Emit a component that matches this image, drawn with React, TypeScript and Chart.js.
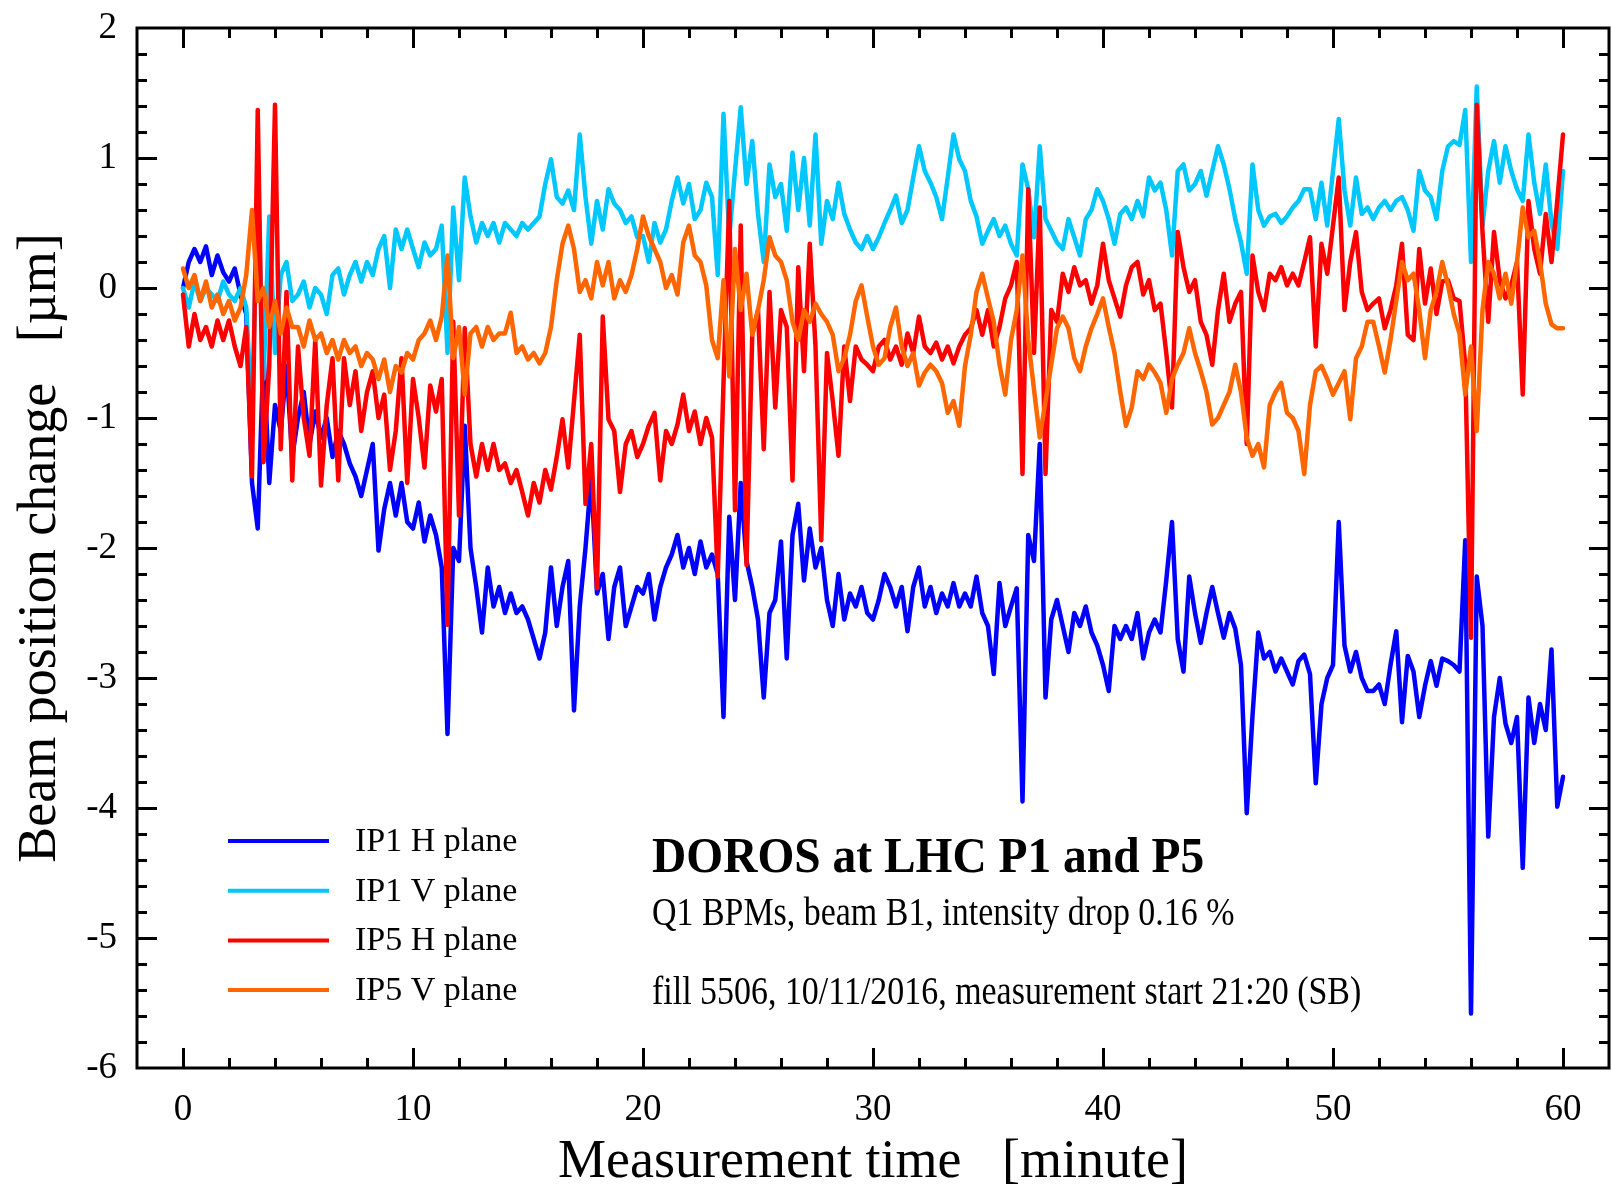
import React, { useEffect, useRef } from "react";
import { Chart, registerables } from "chart.js";

Chart.register(...registerables);

// ---------- data (minutes sampled every 0.25 min, values in µm) ----------
const STEP_MIN = 0.25;

const IP1_H = [
  0.0, 0.2, 0.3, 0.2, 0.32, 0.1, 0.25, 0.12, 0.05, 0.15, -0.05, -0.2, -1.5, -1.85, -0.5, -1.5, -0.9, -1.1, -0.6, -1.3,
  -1.0, -0.8, -1.2, -0.95, -1.15, -1.0, -1.3, -1.1, -1.2, -1.35, -1.45, -1.6, -1.4, -1.2, -2.02, -1.7, -1.5, -1.75, -1.5, -1.8,
  -1.85, -1.65, -1.95, -1.75, -1.9, -2.15, -3.43, -2.0, -2.1, -1.06, -2.0, -2.3, -2.65, -2.15, -2.45, -2.3, -2.5, -2.35, -2.5, -2.45,
  -2.55, -2.7, -2.85, -2.65, -2.15, -2.6, -2.3, -2.1, -3.25, -2.45, -2.0, -1.45, -2.35, -2.2, -2.7, -2.3, -2.15, -2.6, -2.45, -2.3,
  -2.35, -2.2, -2.55, -2.3, -2.15, -2.05, -1.9, -2.15, -2.0, -2.2, -1.95, -2.15, -2.05, -2.2, -3.3, -1.76, -2.4, -1.5, -2.1, -2.3,
  -2.55, -3.15, -2.5, -2.4, -1.95, -2.85, -1.9, -1.66, -2.25, -1.85, -2.15, -2.0, -2.4, -2.6, -2.2, -2.55, -2.35, -2.45, -2.3, -2.5,
  -2.55, -2.4, -2.2, -2.3, -2.45, -2.3, -2.64, -2.3, -2.15, -2.45, -2.3, -2.5, -2.35, -2.45, -2.27, -2.45, -2.35, -2.45, -2.22, -2.5,
  -2.6, -2.97, -2.27, -2.6, -2.45, -2.31, -3.95, -1.9, -2.1, -1.2, -3.15, -2.55, -2.4, -2.6, -2.8, -2.5, -2.6, -2.45, -2.65, -2.75,
  -2.9, -3.1, -2.6, -2.7, -2.6, -2.7, -2.5, -2.85, -2.65, -2.55, -2.65, -2.25, -1.8, -2.7, -2.95, -2.22, -2.5, -2.73, -2.5, -2.3,
  -2.5, -2.69, -2.5, -2.62, -2.9, -4.04, -3.29, -2.65, -2.85, -2.8, -2.95, -2.85, -2.95, -3.05, -2.87, -2.82, -2.97, -3.81, -3.2, -3.0,
  -2.9, -1.8, -2.75, -2.95, -2.8, -3.0, -3.1, -3.1, -3.05, -3.2, -2.9, -2.64, -3.34, -2.83, -2.95, -3.3, -3.06, -2.87, -3.06, -2.85,
  -2.87, -2.9, -2.95, -1.94, -5.58, -2.22, -2.6, -4.22, -3.3, -3.0, -3.35, -3.5, -3.3, -4.46, -3.15, -3.5, -3.2, -3.4, -2.78, -3.99,
  -3.76,
];

const IP1_V = [
  0.0, -0.15, 0.05, -0.1, 0.0, -0.05, -0.1, 0.05, -0.05, -0.1, 0.0, -0.15, -1.0, 0.8, -0.7, 0.55, -0.5, 0.1, 0.2, -0.1,
  -0.05, 0.05, -0.15, 0.0, -0.05, -0.2, 0.1, 0.15, -0.05, 0.1, 0.2, 0.05, 0.2, 0.1, 0.3, 0.4, 0.0, 0.45, 0.3, 0.45,
  0.3, 0.16, 0.35, 0.25, 0.3, 0.48, -0.5, 0.62, 0.06, 0.85, 0.55, 0.35, 0.5, 0.4, 0.5, 0.35, 0.5, 0.45, 0.4, 0.5,
  0.45, 0.5, 0.55, 0.8, 0.99, 0.7, 0.65, 0.75, 0.6, 1.18, 0.7, 0.34, 0.67, 0.45, 0.76, 0.65, 0.6, 0.5, 0.55, 0.39,
  0.4, 0.2, 0.5, 0.35, 0.45, 0.67, 0.85, 0.65, 0.8, 0.53, 0.6, 0.81, 0.7, 0.1, 1.34, 0.39, 0.9, 1.39, 0.8, 1.13,
  0.57, 0.2, 0.95, 0.7, 0.8, 0.44, 1.04, 0.6, 1.0, 0.48, 1.18, 0.34, 0.67, 0.53, 0.81, 0.57, 0.45, 0.35, 0.3, 0.4,
  0.3, 0.39, 0.5, 0.6, 0.71, 0.5, 0.6, 0.85, 1.09, 0.9, 0.81, 0.7, 0.53, 0.85, 1.18, 0.99, 0.9, 0.67, 0.55, 0.34,
  0.44, 0.53, 0.4, 0.48, 0.34, 0.25, 0.95, 0.76, 0.39, 1.09, 0.53, 0.44, 0.35, 0.3, 0.53, 0.39, 0.25, 0.53, 0.6, 0.76,
  0.67, 0.53, 0.34, 0.57, 0.62, 0.53, 0.67, 0.55, 0.85, 0.75, 0.81, 0.6, 0.25, 0.9, 0.95, 0.75, 0.8, 0.9, 0.71, 0.9,
  1.09, 0.95, 0.76, 0.53, 0.35, 0.11, 0.95, 0.6, 0.48, 0.55, 0.57, 0.5, 0.55, 0.62, 0.67, 0.76, 0.76, 0.53, 0.81, 0.48,
  0.9, 1.3, 0.75, 0.48, 0.85, 0.57, 0.62, 0.53, 0.62, 0.67, 0.6, 0.67, 0.7, 0.6, 0.44, 0.9, 0.75, 0.7, 0.53, 0.9,
  1.09, 1.13, 1.1, 1.37, 0.2, 1.55, 0.48, 0.9, 1.13, 0.81, 1.09, 0.9, 0.76, 0.67, 1.18, 0.81, 0.57, 0.95, 0.5, 0.3,
  0.9,
];

const IP5_H = [
  -0.05, -0.45, -0.2, -0.4, -0.3, -0.45, -0.25, -0.4, -0.25, -0.45, -0.6, -0.3, -1.45, 1.37, -1.34, -0.6, 1.41, -1.24, -0.03, -1.48,
  -0.45, -1.0, -1.29, -0.4, -1.52, -0.9, -0.54, -1.48, -0.54, -0.9, -0.64, -1.1, -0.8, -0.64, -1.0, -0.82, -1.4, -1.1, -0.54, -1.5,
  -0.7, -1.0, -1.38, -0.75, -0.95, -0.7, -2.59, -0.26, -1.75, -0.31, -1.2, -1.45, -1.2, -1.4, -1.2, -1.4, -1.35, -1.5, -1.4, -1.57,
  -1.75, -1.5, -1.65, -1.4, -1.55, -1.3, -1.01, -1.38, -0.87, -0.36, -1.66, -1.2, -2.31, -0.22, -1.01, -1.1, -1.57, -1.2, -1.1, -1.3,
  -1.2, -1.06, -0.96, -1.48, -1.1, -1.2, -1.05, -0.82, -1.1, -0.95, -1.2, -1.0, -1.15, -2.22, -0.73, 0.67, -1.71, 0.48, -2.13, -0.36,
  -0.17, -1.24, -0.03, -0.92, -0.17, -0.3, -1.48, 0.16, -0.64, 0.34, -0.45, -1.94, -0.5, -0.87, -1.29, -0.45, -0.87, -0.45, -0.55, -0.59,
  -0.64, -0.45, -0.4, -0.55, -0.45, -0.59, -0.35, -0.5, -0.22, -0.45, -0.5, -0.42, -0.55, -0.45, -0.58, -0.45, -0.36, -0.31, -0.17, -0.36,
  -0.17, -0.45, -0.3, -0.08, 0.02, 0.2, -1.43, 0.76, -0.5, 0.62, -1.43, -0.17, -0.26, 0.11, -0.03, 0.16, 0.02, 0.06, -0.12, 0.02,
  0.34, 0.06, -0.08, -0.22, 0.02, 0.16, 0.2, -0.05, 0.06, -0.17, -0.12, -0.5, -0.92, 0.43, 0.16, -0.03, 0.06, -0.26, -0.36, -0.59,
  -0.17, 0.11, -0.26, -0.12, -0.03, -1.2, 0.25, -0.03, -0.17, 0.11, 0.06, 0.16, 0.02, 0.11, 0.02, 0.2, 0.39, -0.45, 0.34, 0.11,
  0.48, 0.85, -0.17, 0.2, 0.43, -0.03, -0.17, -0.12, -0.08, -0.31, -0.17, 0.02, 0.34, -0.36, -0.4, 0.3, -0.12, 0.15, -0.2, 0.05,
  0.06, -0.08, -0.1, -0.59, -2.69, 1.41, 0.43, -0.26, 0.43, 0.06, -0.08, 0.02, 0.2, -0.82, 0.67, 0.3, 0.11, 0.57, 0.2, 0.67,
  1.18,
];

const IP5_V = [
  0.15, 0.0, 0.1, -0.1, 0.05, -0.15, -0.05, -0.2, -0.1, -0.25, -0.15, 0.1, 0.6, -0.1, 0.0, -0.3, -0.1, -0.35, -0.15, -0.3,
  -0.3, -0.45, -0.25, -0.4, -0.35, -0.5, -0.4, -0.55, -0.4, -0.5, -0.45, -0.6, -0.5, -0.55, -0.7, -0.55, -0.8, -0.6, -0.65, -0.5,
  -0.55, -0.4, -0.35, -0.25, -0.4, -0.22, 0.25, -0.54, -0.3, -0.82, -0.35, -0.3, -0.45, -0.3, -0.4, -0.35, -0.35, -0.19, -0.5, -0.45,
  -0.55, -0.5, -0.58, -0.5, -0.3, 0.06, 0.34, 0.48, 0.3, -0.03, 0.06, -0.08, 0.2, 0.02, 0.2, -0.08, 0.06, -0.03, 0.1, 0.3,
  0.55, 0.4, 0.3, 0.2, 0.0, 0.1, -0.05, 0.35, 0.48, 0.25, 0.2, 0.02, -0.4, -0.54, 0.06, -0.68, 0.3, -0.17, 0.11, -0.36,
  -0.17, 0.06, 0.39, 0.25, 0.2, 0.06, -0.26, -0.4, -0.17, -0.26, -0.12, -0.2, -0.26, -0.36, -0.64, -0.54, -0.36, -0.1, 0.02, -0.22,
  -0.45, -0.59, -0.54, -0.3, -0.15, -0.45, -0.6, -0.5, -0.75, -0.65, -0.59, -0.64, -0.73, -0.96, -0.87, -1.06, -0.6, -0.36, -0.03, 0.11,
  -0.08, -0.26, -0.59, -0.82, -0.4, -0.17, 0.25, -0.4, -0.78, -1.15, -0.87, -0.59, -0.31, -0.22, -0.31, -0.54, -0.64, -0.45, -0.31, -0.2,
  -0.08, -0.3, -0.5, -0.8, -1.06, -0.92, -0.64, -0.7, -0.59, -0.65, -0.73, -0.96, -0.7, -0.59, -0.5, -0.31, -0.5, -0.64, -0.8, -1.05,
  -1.0, -0.9, -0.8, -0.59, -0.8, -1.15, -1.29, -1.2, -1.38, -0.9, -0.8, -0.73, -0.96, -1.0, -1.1, -1.43, -0.9, -0.64, -0.6, -0.7,
  -0.82, -0.73, -0.64, -1.01, -0.54, -0.45, -0.26, -0.26, -0.45, -0.65, -0.4, -0.1, 0.2, 0.06, 0.11, -0.17, -0.54, -0.17, -0.03, 0.2,
  0.02, -0.2, -0.35, -0.82, -0.45, -1.1, -0.17, 0.2, 0.11, -0.08, 0.11, -0.12, 0.2, 0.62, 0.39, 0.44, 0.2, -0.12, -0.28, -0.31,
  -0.31,
];

const SERIES_LABELS = ["IP1 H plane", "IP1 V plane", "IP5 H plane", "IP5 V plane"];
const SERIES_COLORS = ["#0000ff", "#00c8ff", "#ff0000", "#ff6600"];
const SERIES_VALUES = [IP1_H, IP1_V, IP5_H, IP5_V];

const X_TITLE = "Measurement time   [minute]";
const Y_TITLE = "Beam position change   [\u00b5m]";
const NOTE_TITLE = "DOROS at LHC P1 and P5";
const NOTE_LINE_1 = "Q1 BPMs, beam B1, intensity drop 0.16 %";
const NOTE_LINE_2 = "fill 5506, 10/11/2016, measurement start 21:20 (SB)";

// axis ranges / tick spacing
const X_MIN = -2;
const X_MAX = 62;
const X_MAJOR = 10;
const X_MINOR = 2;
const Y_MIN = -6;
const Y_MAX = 2;
const Y_MAJOR = 1;
const Y_MINOR = 0.2;

const FONT = '"Liberation Serif", "Times New Roman", Times, serif';

const framePlugin = {
  id: "frameTicksLegend",
  afterDatasetsDraw(chart: any) {
    const { ctx, chartArea, scales } = chart;
    const { left, right, top, bottom } = chartArea;
    const xs = scales.x;
    const ys = scales.y;
    ctx.save();
    ctx.strokeStyle = "#000";
    ctx.lineWidth = 3;
    ctx.lineCap = "butt";
    ctx.beginPath();
    // x ticks (bottom + top, inward)
    const nx0 = Math.ceil(X_MIN / X_MINOR - 1e-9);
    const nx1 = Math.floor(X_MAX / X_MINOR + 1e-9);
    for (let i = nx0; i <= nx1; i++) {
      const v = i * X_MINOR;
      const px = Math.round(xs.getPixelForValue(v)) + 0.5;
      if (px <= left + 3 || px >= right - 3) continue;
      const major = Math.abs(v / X_MAJOR - Math.round(v / X_MAJOR)) < 1e-6;
      const len = major ? 20 : 10;
      ctx.moveTo(px, bottom);
      ctx.lineTo(px, bottom - len);
      ctx.moveTo(px, top);
      ctx.lineTo(px, top + len);
    }
    // y ticks (left + right, inward)
    const ny0 = Math.ceil(Y_MIN / Y_MINOR - 1e-9);
    const ny1 = Math.floor(Y_MAX / Y_MINOR + 1e-9);
    for (let i = ny0; i <= ny1; i++) {
      const v = i * Y_MINOR;
      const py = Math.round(ys.getPixelForValue(v)) + 0.5;
      if (py <= top + 3 || py >= bottom - 3) continue;
      const major = Math.abs(v / Y_MAJOR - Math.round(v / Y_MAJOR)) < 1e-6;
      const len = major ? 20 : 10;
      ctx.moveTo(left, py);
      ctx.lineTo(left + len, py);
      ctx.moveTo(right, py);
      ctx.lineTo(right - len, py);
    }
    ctx.stroke();
    ctx.strokeRect(left, top, right - left, bottom - top);

    // legend
    ctx.fillStyle = "#000";
    ctx.textBaseline = "alphabetic";
    ctx.textAlign = "left";
    ctx.font = `34px ${FONT}`;
    chart.data.datasets.forEach((ds: any, i: number) => {
      const ly = 841 + i * 49.7;
      ctx.beginPath();
      ctx.strokeStyle = ds.borderColor;
      ctx.lineWidth = 4;
      ctx.moveTo(228, ly);
      ctx.lineTo(329, ly);
      ctx.stroke();
      ctx.fillText(ds.label, 355, ly + 10);
    });

    // annotation texts
    const drawCondensed = (text: string, x: number, y: number, font: string, sx: number) => {
      ctx.save();
      ctx.font = font;
      ctx.translate(x, y);
      ctx.scale(sx, 1);
      ctx.fillText(text, 0, 0);
      ctx.restore();
    };
    drawCondensed(NOTE_TITLE, 652, 872, `bold 51px ${FONT}`, 0.93);
    drawCondensed(NOTE_LINE_1, 652, 925, `39px ${FONT}`, 0.87);
    drawCondensed(NOTE_LINE_2, 652, 1004, `39px ${FONT}`, 0.87);
    ctx.restore();
  },
};

export default function App() {
  const canvasRef = useRef<HTMLCanvasElement | null>(null);

  useEffect(() => {
    const canvas = canvasRef.current;
    if (!canvas) return;
    const datasets = SERIES_VALUES.map((vals, k) => ({
      label: SERIES_LABELS[k],
      data: vals.map((v, i) => ({ x: i * STEP_MIN, y: v })),
      borderColor: SERIES_COLORS[k],
      backgroundColor: SERIES_COLORS[k],
      borderWidth: 4.5,
      pointRadius: 0,
      tension: 0,
      fill: false,
      borderJoinStyle: "round" as const,
      borderCapStyle: "round" as const,
      order: 4 - k,
    }));

    const chart = new Chart(canvas, {
      type: "line",
      data: { datasets },
      options: {
        animation: false,
        responsive: false,
        devicePixelRatio: 1,
        layout: { padding: { left: 0, top: 28, right: 3, bottom: 0 } },
        plugins: {
          legend: { display: false },
          tooltip: { enabled: false },
          title: { display: false },
        },
        scales: {
          x: {
            type: "linear",
            min: X_MIN,
            max: X_MAX,
            grid: { display: false, drawTicks: false },
            border: { display: false },
            ticks: {
              stepSize: X_MAJOR,
              includeBounds: false,
              autoSkip: false,
              maxRotation: 0,
              padding: 20,
              color: "#000",
              font: { family: FONT, size: 37 },
            },
            title: {
              display: true,
              text: X_TITLE,
              color: "#000",
              font: { family: FONT, size: 54, lineHeight: 0.82 },
              padding: { top: 0, bottom: 0 },
            },
            afterFit: (scale: any) => {
              scale.height = 117;
              scale.paddingLeft = 0;
              scale.paddingRight = 0;
            },
          },
          y: {
            type: "linear",
            min: Y_MIN,
            max: Y_MAX,
            grid: { display: false, drawTicks: false },
            border: { display: false },
            ticks: {
              stepSize: Y_MAJOR,
              autoSkip: false,
              padding: 20,
              color: "#000",
              font: { family: FONT, size: 37 },
            },
            title: {
              display: true,
              text: Y_TITLE,
              color: "#000",
              font: { family: FONT, size: 54, lineHeight: 1 },
              padding: { top: 14, bottom: 0 },
            },
            afterFit: (scale: any) => {
              scale.width = 137;
              scale.paddingTop = 0;
              scale.paddingBottom = 0;
            },
          },
        },
      },
      plugins: [framePlugin],
    });

    return () => {
      chart.destroy();
    };
  }, []);

  return (
    <div
      style={{
        position: "absolute",
        left: 0,
        top: 0,
        width: 1612,
        height: 1185,
        background: "#ffffff",
        overflow: "hidden",
      }}
    >
      <canvas ref={canvasRef} width={1612} height={1185} style={{ display: "block" }} />
    </div>
  );
}
